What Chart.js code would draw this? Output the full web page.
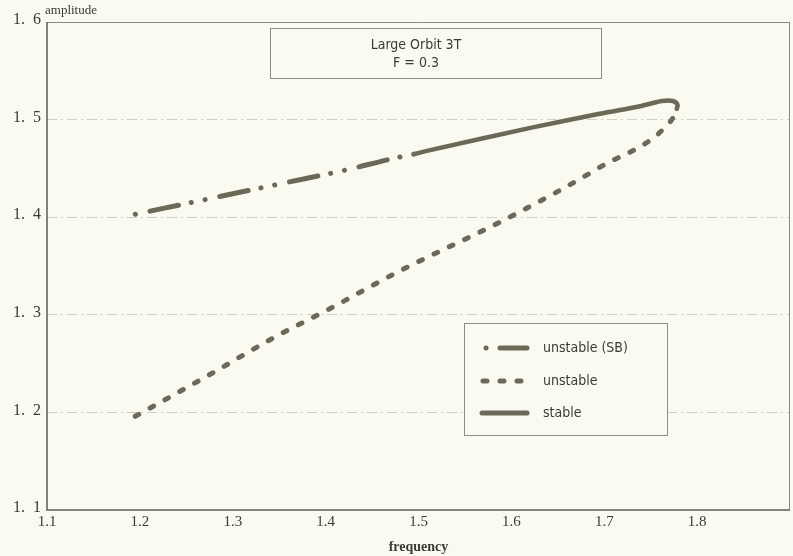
<!DOCTYPE html>
<html>
<head>
<meta charset="utf-8">
<script src="https://cdn.jsdelivr.net/npm/chart.js@4"></script>
<style>
  html, body { margin: 0; padding: 0; background: #fbfaf0; }
  #wrap { width: 793px; height: 556px; }
</style>
</head>
<body>
<div id="wrap"><canvas id="orbitChart" width="793" height="556"></canvas></div>
<script>
'use strict';

// ── Data ─────────────────────────────────────────────────────────
const sbFreq   = [1.195, 1.225, 1.30, 1.36, 1.42, 1.472, 1.497];
const sbAmp    = [1.403, 1.409, 1.424, 1.436, 1.448, 1.460, 1.465];

const stableFreq = [1.497, 1.509, 1.623, 1.695, 1.74, 1.762, 1.774, 1.779, 1.778];
const stableAmp  = [1.465, 1.468, 1.492, 1.506, 1.514, 1.519, 1.519, 1.515, 1.511];

const unstableFreq = [1.195, 1.272, 1.345, 1.402, 1.48, 1.598, 1.695, 1.772, 1.778];
const unstableAmp  = [1.196, 1.237, 1.277, 1.305, 1.345, 1.400, 1.451, 1.499, 1.509];

const yTicks = [1.1, 1.2, 1.3, 1.4, 1.5, 1.6];
const xTickLabels = ['1.1', '1.2', '1.3', '1.4', '1.5', '1.6', '1.7', '1.8'];

const titleLines = ['Large Orbit 3T', 'F = 0.3'];
const legendLabels = ['unstable (SB)', 'unstable', 'stable'];

// ── Styles ───────────────────────────────────────────────────────
const INK = '#6b6a58';
const TEXT = '#3b3b31';
const BG = '#fbfaf0';
const CONDENSED = '"DejaVu Sans Condensed", "Liberation Sans Narrow", "DejaVu Sans", sans-serif';
const SERIF = '"Liberation Serif", "DejaVu Serif", serif';

const DASH_DOT = [29, 13, 0.1, 14, 0.1, 15];
const DASHED = [4, 13];

const toPoints = (xs, ys) => xs.map((x, i) => ({ x, y: ys[i] }));

// ── Overlay: frame, title box, legend box, y label ───────────────
const overlay = {
  id: 'overlay',
  afterDatasetsDraw(chart) {
    const { ctx, chartArea: a } = chart;
    ctx.save();

    // frame
    ctx.lineWidth = 1;
    ctx.strokeStyle = '#8a8a7c';
    ctx.beginPath();
    ctx.moveTo(a.left, a.top + 0.5); ctx.lineTo(a.right, a.top + 0.5);
    ctx.moveTo(a.right - 0.5, a.top); ctx.lineTo(a.right - 0.5, a.bottom);
    ctx.stroke();
    ctx.strokeStyle = '#5c5c50';
    ctx.lineWidth = 1.5;
    ctx.beginPath();
    ctx.moveTo(a.left, a.top); ctx.lineTo(a.left, a.bottom);
    ctx.lineTo(a.right, a.bottom);
    ctx.stroke();

    // y axis title
    ctx.fillStyle = TEXT;
    ctx.font = '13px ' + SERIF;
    ctx.textAlign = 'left';
    ctx.textBaseline = 'middle';
    ctx.fillText('amplitude', a.left - 2, 11);

    // title box
    ctx.fillStyle = BG;
    ctx.strokeStyle = '#8d8d80';
    ctx.lineWidth = 1;
    ctx.fillRect(270, 28, 331, 50);
    ctx.strokeRect(270.5, 28.5, 331, 50);
    ctx.fillStyle = TEXT;
    ctx.font = '14px ' + CONDENSED;
    ctx.textAlign = 'center';
    ctx.fillText(titleLines[0], 416, 45);
    ctx.fillText(titleLines[1], 416, 63);

    // legend box
    ctx.fillStyle = BG;
    ctx.fillRect(464, 323, 203, 112);
    ctx.strokeRect(464.5, 323.5, 203, 112);
    const rows = [348, 381, 413];
    ctx.lineCap = 'round';
    ctx.strokeStyle = INK;
    ctx.lineWidth = 5;
    rows.forEach((y, i) => {
      ctx.setLineDash(i === 1 ? DASHED : []);
      ctx.beginPath();
      if (i === 0) {
        ctx.moveTo(486, y); ctx.lineTo(486.1, y);
        ctx.moveTo(500, y); ctx.lineTo(527, y);
      } else if (i === 1) {
        ctx.moveTo(483, y); ctx.lineTo(528, y);
      } else {
        ctx.moveTo(482, y); ctx.lineTo(527, y);
      }
      ctx.stroke();
    });
    ctx.setLineDash([]);
    ctx.fillStyle = TEXT;
    ctx.font = '14px ' + CONDENSED;
    ctx.textAlign = 'left';
    rows.forEach((y, i) => ctx.fillText(legendLabels[i], 543, y));

    ctx.restore();
  },
};

// ── Chart ────────────────────────────────────────────────────────
const lineStyle = (dash, width, mode, offset = 0) => ({
  borderColor: INK,
  backgroundColor: INK,
  borderWidth: width,
  borderDash: dash,
  borderDashOffset: offset,
  borderCapStyle: 'round',
  pointRadius: 0,
  showLine: true,
  tension: 0.3,
  cubicInterpolationMode: mode,
  fill: false,
});

new Chart(document.getElementById('orbitChart'), {
  type: 'scatter',
  data: {
    datasets: [
      { label: legendLabels[0], data: toPoints(sbFreq, sbAmp), ...lineStyle(DASH_DOT, 5, 'monotone', 56) },
      { label: legendLabels[1], data: toPoints(unstableFreq, unstableAmp), ...lineStyle(DASHED, 5, 'monotone') },
      { label: legendLabels[2], data: toPoints(stableFreq, stableAmp), ...lineStyle([], 4.5, 'default') },
    ],
  },
  options: {
    responsive: false,
    animation: false,
    layout: { padding: { top: 22, right: 3, left: 0, bottom: 0 } },
    plugins: { legend: { display: false }, tooltip: { enabled: false } },
    scales: {
      x: {
        type: 'linear',
        min: 1.1,
        max: 1.9,
        afterBuildTicks: (s) => { s.ticks = xTickLabels.map((t) => ({ value: Number(t) })); },
        afterFit: (s) => { s.height = 46; },
        ticks: {
          color: TEXT,
          font: { family: SERIF, size: 15 },
          padding: -5,
          maxRotation: 0,
          autoSkip: false,
          callback: (v) => Number(v).toFixed(1),
        },
        grid: { display: false },
        border: { display: false },
        title: {
          display: true,
          text: 'frequency',
          color: TEXT,
          font: { family: SERIF, size: 14, weight: 'bold' },
          padding: { top: 0, bottom: 0 },
        },
      },
      y: {
        type: 'linear',
        min: 1.1,
        max: 1.6,
        afterBuildTicks: (s) => { s.ticks = yTicks.map((v) => ({ value: v })); },
        afterFit: (s) => { s.width = 47; },
        ticks: {
          color: TEXT,
          font: { family: SERIF, size: 16 },
          padding: 6,
          labelOffset: -2,
          autoSkip: false,
          callback: (v) => Number(v).toFixed(1).replace('.', '.  '),
        },
        grid: {
          drawTicks: false,
          lineWidth: 1,
          color: (c) => (c.tick && (c.tick.value < 1.15 || c.tick.value > 1.55) ? 'rgba(0,0,0,0)' : '#cfcfc2'),
        },
        border: { display: false, dash: [10, 4, 2, 4] },
      },
    },
  },
  plugins: [overlay],
});
</script>
</body>
</html>
